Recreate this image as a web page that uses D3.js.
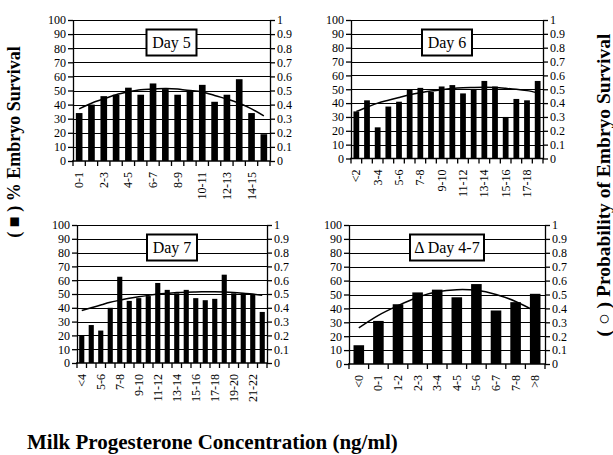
<!DOCTYPE html>
<html>
<head>
<meta charset="utf-8">
<script src="https://cdn.jsdelivr.net/npm/d3@7"></script>
<style>
  body { margin: 0; background: #fff; }
  svg { display: block; }
  svg text { font-family: "Liberation Serif", "Times New Roman", serif; }
</style>
</head>
<body>
<svg width="613" height="455"></svg>
<script>
// Day 5
var day5Cats = ["0-1","1-2","2-3","3-4","4-5","5-6","6-7","7-8","8-9","9-10","10-11","11-12","12-13","13-14","14-15",">15"];
var day5Pct  = [34, 40, 46, 47, 52, 47, 55, 51, 47, 50, 54, 42, 47, 58, 34, 19];
var day5Prob = [0.37, 0.41, 0.44, 0.47, 0.49, 0.505, 0.51, 0.515, 0.51, 0.50, 0.49, 0.465, 0.44, 0.41, 0.37, 0.32];

// Day 6
var day6Cats = ["<2","2-3","3-4","4-5","5-6","6-7","7-8","8-9","9-10","10-11","11-12","12-13","13-14","14-15","15-16","16-17","17-18",">18"];
var day6Pct  = [34, 42, 22.5, 37.5, 41, 50, 51, 48, 52, 53, 47, 50, 56, 52, 30, 43, 42, 56];
var day6Prob = [0.34, 0.37, 0.40, 0.42, 0.44, 0.46, 0.475, 0.487, 0.497, 0.505, 0.51, 0.513, 0.515, 0.513, 0.507, 0.50, 0.49, 0.475];

// Day 7
var day7Cats = ["<4","4-5","5-6","6-7","7-8","8-9","9-10","10-11","11-12","12-13","13-14","14-15","15-16","16-17","17-18","18-19","19-20","20-21","21-22",">22"];
var day7Pct  = [20, 27.5, 23.5, 40, 62.5, 45, 47, 48.5, 58, 53, 50.5, 53, 47, 45.5, 46.5, 64, 50.5, 50.5, 49.5, 37];
var day7Prob = [0.38, 0.40, 0.42, 0.44, 0.455, 0.47, 0.48, 0.49, 0.50, 0.505, 0.51, 0.513, 0.515, 0.516, 0.516, 0.514, 0.51, 0.505, 0.50, 0.49];

// Delta Day 4-7
var deltaCats = ["<0","0-1","1-2","2-3","3-4","4-5","5-6","6-7","7-8",">8"];
var deltaPct  = [13.5, 31, 43, 51.5, 53.5, 48, 57.5, 38.5, 44.5, 50.5];
var deltaProb = [0.26, 0.35, 0.42, 0.48, 0.52, 0.535, 0.53, 0.50, 0.45, 0.38];

var leftTicks = [0,10,20,30,40,50,60,70,80,90,100];
var rightTicks = [0,0.1,0.2,0.3,0.4,0.5,0.6,0.7,0.8,0.9,1];

var svg = d3.select("svg");
var FONT = 12;
var SERIF = "Liberation Serif, Times New Roman, serif";

var panels = [
  {title: "Day 5", cats: day5Cats, pct: day5Pct, prob: day5Prob, x0: 73, x1: 270, y0: 20, y1: 161, boxW: 50, every: 2},
  {title: "Day 6", cats: day6Cats, pct: day6Pct, prob: day6Prob, x0: 351, x1: 543, y0: 20, y1: 158.5, boxW: 50, every: 2},
  {title: "Day 7", cats: day7Cats, pct: day7Pct, prob: day7Prob, x0: 77, x1: 267, y0: 225, y1: 363, boxW: 50, every: 2},
  {title: "\u0394 Day 4-7", cats: deltaCats, pct: deltaPct, prob: deltaProb, x0: 349, x1: 545, y0: 225, y1: 364, boxW: 74, every: 1}
];

panels.forEach(drawPanel);

function drawPanel(p) {
  var g = svg.append("g");
  var x = d3.scaleBand().domain(p.cats).range([p.x0, p.x1]).paddingInner(0.46).paddingOuter(0.23);
  var y = d3.scaleLinear().domain([0, 100]).range([p.y1, p.y0]);
  var yr = d3.scaleLinear().domain([0, 1]).range([p.y1, p.y0]);

  // gridlines
  g.selectAll("line.grid")
    .data(leftTicks.slice(1))
    .enter().append("line")
      .attr("x1", p.x0).attr("x2", p.x1)
      .attr("y1", function(d){ return Math.round(y(d)) + 0.5; })
      .attr("y2", function(d){ return Math.round(y(d)) + 0.5; })
      .attr("stroke", "#000").attr("stroke-width", 1);

  // bars
  g.selectAll("rect.bar")
    .data(p.pct)
    .enter().append("rect")
      .attr("x", function(d, i){ return x(p.cats[i]); })
      .attr("y", function(d){ return y(d); })
      .attr("width", x.bandwidth())
      .attr("height", function(d){ return y(0) - y(d); })
      .attr("fill", "#000");

  // probability curve
  var line = d3.line()
    .x(function(d, i){ return x(p.cats[i]) + x.bandwidth() / 2; })
    .y(function(d){ return yr(d); })
    .curve(d3.curveNatural);
  g.append("path")
    .datum(p.prob)
    .attr("d", line)
    .attr("fill", "none")
    .attr("stroke", "#000")
    .attr("stroke-width", 1.5);

  // left axis
  var la = g.append("g")
    .attr("transform", "translate(" + p.x0 + ",0)")
    .call(d3.axisLeft(y).tickValues(leftTicks).tickSize(5).tickSizeOuter(0).tickPadding(2));
  // right axis
  var ra = g.append("g")
    .attr("transform", "translate(" + p.x1 + ",0)")
    .call(d3.axisRight(yr).tickValues(rightTicks).tickSize(5).tickSizeOuter(0).tickPadding(2)
      .tickFormat(function(d){ return d === 0 ? "0" : d === 1 ? "1" : d3.format(".1f")(d); }));
  [la, ra].forEach(function(a){
    a.attr("font-family", SERIF).attr("font-size", FONT);
    a.selectAll("text").attr("fill", "#000");
    a.selectAll("line,path").attr("stroke", "#000").attr("stroke-width", 1.3);
  });

  // bottom axis line
  g.append("line")
    .attr("x1", p.x0 - 1).attr("x2", p.x1 + 1)
    .attr("y1", p.y1).attr("y2", p.y1)
    .attr("stroke", "#000").attr("stroke-width", 1.3);

  // bottom ticks at slot boundaries
  var step = x.step();
  var bounds = p.cats.map(function(c){ return x(c) - step * 0.23; });
  bounds.push(p.x1);
  g.selectAll("line.xtick")
    .data(bounds)
    .enter().append("line")
      .attr("x1", function(d){ return d; }).attr("x2", function(d){ return d; })
      .attr("y1", p.y1).attr("y2", p.y1 + 5)
      .attr("stroke", "#000").attr("stroke-width", 1.3);

  // category labels
  g.selectAll("text.xlab")
    .data(p.cats.filter(function(c, i){ return i % p.every === 0; }))
    .enter().append("text")
      .attr("transform", function(d){
        return "translate(" + (x(d) + x.bandwidth() / 2 + 4) + "," + (p.y1 + 11) + ") rotate(-90)";
      })
      .attr("text-anchor", "end")
      .attr("font-family", SERIF)
      .attr("font-size", FONT)
      .text(function(d){ return d; });

  // title box
  var cx = (p.x0 + p.x1) / 2;
  var bx = g.append("g").attr("transform", "translate(" + (cx - p.boxW / 2) + "," + (p.y0 + 9.5) + ")");
  bx.append("rect")
    .attr("width", p.boxW).attr("height", 26)
    .attr("fill", "#fff").attr("stroke", "#000").attr("stroke-width", 2);
  bx.append("text")
    .attr("x", p.boxW / 2).attr("y", 18.5)
    .attr("text-anchor", "middle")
    .attr("font-family", SERIF)
    .attr("font-size", 16)
    .text(p.title);
}

// axis titles
svg.append("text")
  .attr("transform", "translate(20,142) rotate(-90)")
  .attr("text-anchor", "middle")
  .attr("font-family", SERIF)
  .attr("font-size", 18).attr("font-weight", "bold")
  .text("( \u25A0 ) % Embryo Survival");

svg.append("text")
  .attr("transform", "translate(610,185) rotate(-90)")
  .attr("text-anchor", "middle")
  .attr("font-family", SERIF)
  .attr("font-size", 19.5).attr("font-weight", "bold")
  .text("( \u25CB ) Probability of Embryo Survival");

svg.append("text")
  .attr("x", 27).attr("y", 449)
  .attr("font-family", SERIF)
  .attr("font-size", 21).attr("font-weight", "bold")
  .text("Milk Progesterone Concentration (ng/ml)");
</script>
</body>
</html>
